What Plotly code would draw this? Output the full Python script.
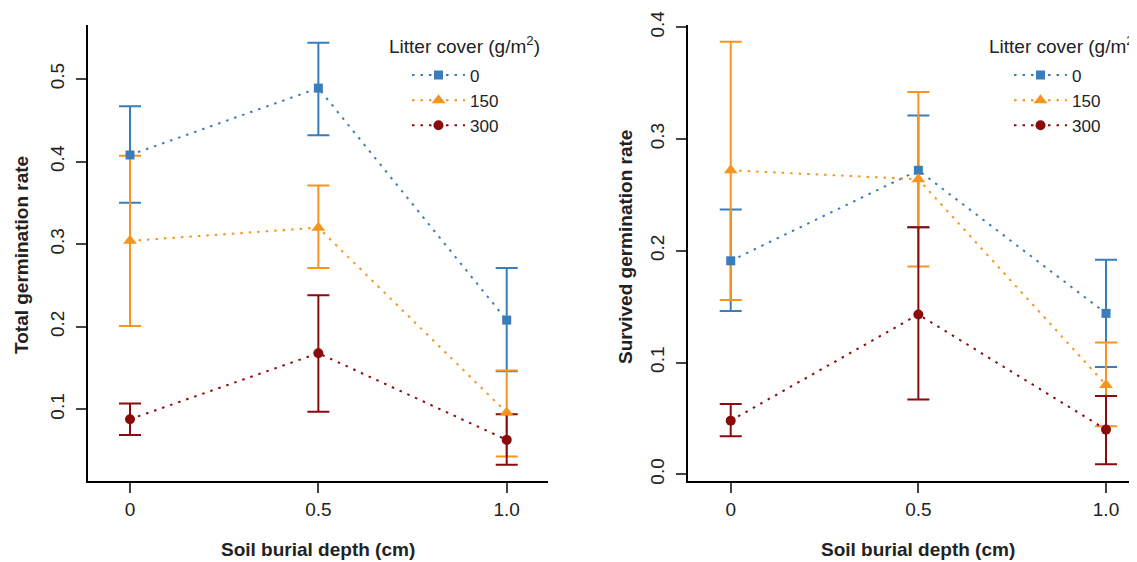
import plotly.graph_objects as go

W, H = 1137, 562
OX, OY = 8, 8  # page body margin offset

depth = [0, 0.5, 1.0]
depth_ticks = [0, 0.5, 1.0]
depth_ticktext = ["0", "0.5", "1.0"]
litter = ["0", "150", "300"]

# Total germination rate (left panel): mean, upper, lower
total_mean = {"0": [0.408, 0.489, 0.208], "150": [0.304, 0.320, 0.096], "300": [0.088, 0.168, 0.063]}
total_upper = {"0": [0.467, 0.544, 0.271], "150": [0.407, 0.371, 0.147], "300": [0.107, 0.238, 0.094]}
total_lower = {"0": [0.350, 0.432, 0.146], "150": [0.201, 0.271, 0.043], "300": [0.069, 0.097, 0.033]}

# Survived germination rate (right panel)
surv_mean = {"0": [0.191, 0.272, 0.144], "150": [0.272, 0.264, 0.080], "300": [0.048, 0.143, 0.040]}
surv_upper = {"0": [0.237, 0.321, 0.192], "150": [0.387, 0.342, 0.118], "300": [0.063, 0.221, 0.070]}
surv_lower = {"0": [0.146, 0.221, 0.096], "150": [0.156, 0.186, 0.043], "300": [0.034, 0.067, 0.009]}

total_yticks = [0.1, 0.2, 0.3, 0.4, 0.5]
total_yticktext = ["0.1", "0.2", "0.3", "0.4", "0.5"]
surv_yticks = [0.0, 0.1, 0.2, 0.3, 0.4]
surv_yticktext = ["0.0", "0.1", "0.2", "0.3", "0.4"]

colors = {"0": "#3A7DBB", "150": "#F7941D", "300": "#8B0A0A"}
symbols = {"0": "square", "150": "triangle-up", "300": "circle"}
msize = {"0": 9, "150": 12, "300": 10}

FONT = "Liberation Sans, Arial, sans-serif"

fig = go.Figure()

panels = [
    (total_mean, total_upper, total_lower, "x", "y", "legend"),
    (surv_mean, surv_upper, surv_lower, "x2", "y2", "legend2"),
]

for mean, up, lo, xa, ya, lg in panels:
    # error bars first (drawn beneath all points/lines)
    for k in litter:
        plus = [u - m for u, m in zip(up[k], mean[k])]
        minus = [m - l for m, l in zip(mean[k], lo[k])]
        fig.add_trace(go.Scatter(
            x=depth, y=mean[k], mode="markers", xaxis=xa, yaxis=ya,
            marker=dict(size=2, opacity=0, color=colors[k]),
            error_y=dict(type="data", array=plus, arrayminus=minus, visible=True,
                         color=colors[k], thickness=2, width=11),
            showlegend=False, hoverinfo="skip"))
    for k in litter:
        fig.add_trace(go.Scatter(
            x=depth, y=mean[k], mode="lines+markers", xaxis=xa, yaxis=ya,
            name=k, legend=lg,
            line=dict(color=colors[k], width=2, dash="2.5px,6px"),
            marker=dict(symbol=symbols[k], size=msize[k], color=colors[k]),
            showlegend=True))

def px_x(p):
    return (p - OX) / W

def px_y(p):
    return 1 - (p - OY) / H

ydom = [px_y(481), px_y(25)]

axis_common = dict(showgrid=False, zeroline=False, showline=True, linecolor="black",
                   linewidth=2, ticks="outside", ticklen=10, tickwidth=1.5,
                   tickcolor="#444", tickfont=dict(family=FONT, size=19, color="#222"))

legend_common = dict(xanchor="left", yanchor="top", bgcolor="rgba(0,0,0,0)", itemwidth=53,
                     font=dict(family=FONT, size=17, color="#222"))

fig.update_layout(
    width=W, height=H,
    margin=dict(l=0, r=0, t=0, b=0, autoexpand=False),
    paper_bgcolor="white", plot_bgcolor="white",
    font=dict(family=FONT, color="#222"),
    xaxis=dict(domain=[px_x(88), px_x(548)], range=[-0.1115, 1.1096],
               tickvals=depth_ticks, ticktext=depth_ticktext, anchor="y", **axis_common),
    yaxis=dict(domain=ydom, range=[0.0132, 0.5654], tickvals=total_yticks,
               ticktext=total_yticktext, tickangle=-90, anchor="x",
               ticklabelstandoff=4, **axis_common),
    xaxis2=dict(domain=[px_x(688), 1.0], range=[-0.1138, 1.1039],
                tickvals=depth_ticks, ticktext=depth_ticktext, anchor="y2", **axis_common),
    yaxis2=dict(domain=ydom, range=[-0.006, 0.402], tickvals=surv_yticks,
                ticktext=surv_yticktext, tickangle=-90, anchor="x2",
                ticklabelstandoff=4, **axis_common),
    legend=dict(x=px_x(407), y=px_y(57.5), **legend_common),
    legend2=dict(x=px_x(1009), y=px_y(57.5), **legend_common),
    showlegend=True,
)

annots = [
    dict(text="Litter cover (g/m<sup>2</sup>)", x=px_x(387), y=px_y(45), xanchor="left",
         yanchor="middle", font=dict(size=19)),
    dict(text="Litter cover (g/m<sup>2</sup>)", x=px_x(987), y=px_y(45), xanchor="left",
         yanchor="middle", font=dict(size=19)),
    dict(text="<b>Soil burial depth (cm)</b>", x=px_x(318), y=px_y(549), xanchor="center",
         yanchor="middle", font=dict(size=19)),
    dict(text="<b>Soil burial depth (cm)</b>", x=px_x(918), y=px_y(549), xanchor="center",
         yanchor="middle", font=dict(size=19)),
    dict(text="<b>Total germination rate</b>", x=px_x(22), y=px_y(255), xanchor="center",
         yanchor="middle", textangle=-90, font=dict(size=19)),
    dict(text="<b>Survived germination rate</b>", x=px_x(625), y=px_y(247), xanchor="center",
         yanchor="middle", textangle=-90, font=dict(size=19)),
]
for a in annots:
    a.update(xref="paper", yref="paper", showarrow=False)
    a["font"].update(family=FONT, color="#222")
fig.update_layout(annotations=annots)

fig.write_html("out.html")
